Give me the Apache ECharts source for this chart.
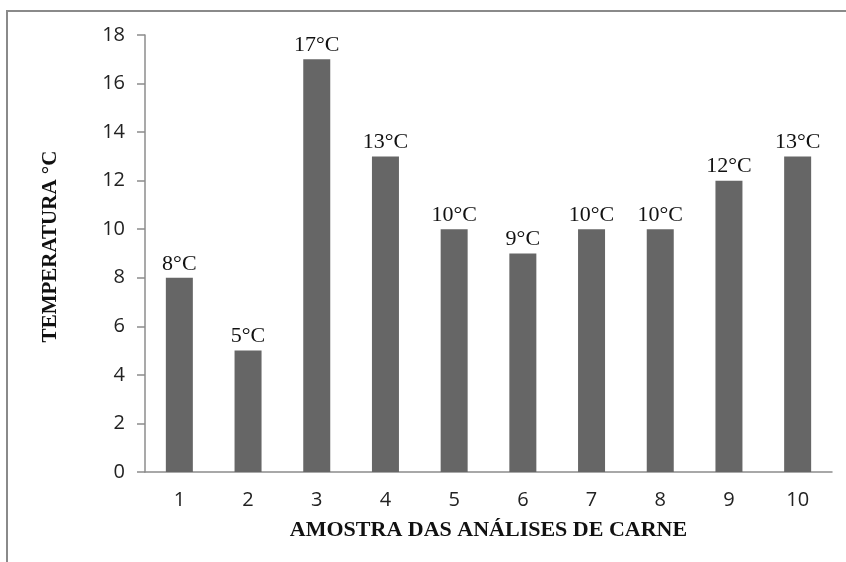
<!DOCTYPE html>
<html>
<head>
<meta charset="utf-8">
<script src="https://cdn.jsdelivr.net/npm/echarts@6/dist/echarts.min.js"></script>
<style>
html,body{margin:0;padding:0;background:#fff;}
#frame{position:absolute;left:6px;top:10px;width:840px;height:552px;border-left:2px solid #8a8a8a;border-top:2px solid #8a8a8a;box-sizing:border-box;}
#chart{position:absolute;left:0;top:0;width:846px;height:562px;}
</style>
</head>
<body>
<div id="frame"></div>
<div id="chart"></div>
<script>
const categories = ['1','2','3','4','5','6','7','8','9','10'];
const temperatures = [8, 5, 17, 13, 10, 9, 10, 10, 12, 13];
const yTicks = [0, 2, 4, 6, 8, 10, 12, 14, 16, 18];
const xTitle = 'AMOSTRA DAS ANÁLISES DE CARNE';
const yTitle = 'TEMPERATURA °C';

const chart = echarts.init(document.getElementById('chart'), null, {renderer: 'canvas'});
chart.setOption({
  animation: false,
  grid: {left: 145, right: 14, top: 35, bottom: 90, containLabel: false},
  xAxis: {
    type: 'category',
    data: categories,
    name: xTitle,
    nameLocation: 'middle',
    nameGap: 47,
    nameTextStyle: {fontFamily: 'Liberation Serif', fontWeight: 'bold', fontSize: 22, color: '#111'},
    axisLine: {lineStyle: {color: '#8c8c8c', width: 1.5}},
    axisTick: {length: 7, lineStyle: {color: '#8c8c8c', width: 1.5}},
    axisLabel: {margin: 18, fontFamily: 'Open Sans', fontSize: 20, color: '#222'}
  },
  yAxis: {
    type: 'value',
    min: yTicks[0],
    max: yTicks[yTicks.length - 1],
    interval: yTicks[1] - yTicks[0],
    name: yTitle,
    nameLocation: 'middle',
    nameGap: 84,
    nameTextStyle: {fontFamily: 'Liberation Serif', fontWeight: 'bold', fontSize: 21, color: '#111', padding: [0, 0, 0, 14]},
    axisLine: {show: true, lineStyle: {color: '#8c8c8c', width: 1.5}},
    axisTick: {show: true, length: 8, lineStyle: {color: '#8c8c8c', width: 1.5}},
    splitLine: {show: false},
    axisLabel: {margin: 20, fontFamily: 'Open Sans', fontSize: 20, color: '#222'}
  },
  series: [{
    type: 'bar',
    data: temperatures,
    barWidth: 27,
    itemStyle: {color: '#666666'},
    label: {
      show: true,
      position: 'top',
      distance: 3,
      formatter: p => p.value + '°C',
      fontFamily: 'Liberation Serif',
      fontSize: 22,
      color: '#111'
    }
  }]
});
</script>
</body>
</html>
